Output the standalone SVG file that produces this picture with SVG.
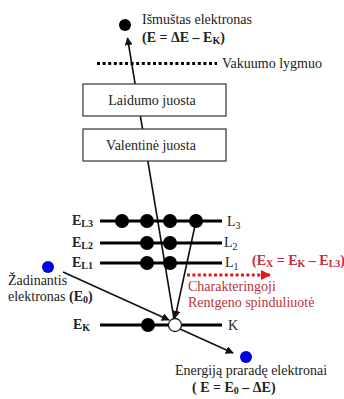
<svg xmlns="http://www.w3.org/2000/svg" width="344" height="399" viewBox="0 0 344 399" font-family="'Liberation Serif','Times New Roman',serif">
<style>
text{font-family:"Liberation Serif","Times New Roman",serif;font-size:14px;fill:#222}
.b{font-weight:bold}
.sub{font-size:10px}
.red{fill:#c8283a}
.red2{fill:#b8343c}
.lvl{stroke:#000;stroke-width:3}
.conn{stroke:#111;stroke-width:1.6;fill:none}
.box{fill:#fff;stroke:#333;stroke-width:1.2}
.dot{fill:#000}
.blue{fill:#0000e0}
</style>
<defs>
<marker id="ah" viewBox="0 0 10 10" refX="9" refY="5" markerWidth="5" markerHeight="5" orient="auto" markerUnits="strokeWidth">
<path d="M0,0 L10,5 L0,10 Z" fill="#111"/>
</marker>
<marker id="ahr" viewBox="0 0 10 10" refX="9" refY="5" markerWidth="3.2" markerHeight="3.2" orient="auto" markerUnits="strokeWidth">
<path d="M0,0 L10,5 L0,10 Z" fill="#e01a1a"/>
</marker>
</defs>
<rect width="344" height="399" fill="#fff"/>

<g id="connectors">
<line class="conn" x1="174" y1="319" x2="127.5" y2="38" marker-end="url(#ah)"/>
<line class="conn" x1="196" y1="221" x2="175" y2="318" marker-end="url(#ah)"/>
<line class="conn" x1="63" y1="272" x2="169" y2="320" marker-end="url(#ah)"/>
<line class="conn" x1="180" y1="329" x2="233" y2="353" marker-end="url(#ah)"/>
<line x1="187" y1="275" x2="270" y2="275" stroke="#e01a1a" stroke-width="3.2" stroke-dasharray="3 2.4" marker-end="url(#ahr)"/>
</g>

<g id="ejected">
<circle class="dot" cx="125" cy="25" r="6"/>
<text x="142" y="24">Išmuštas elektronas</text>
<text x="142" y="42" class="b">(E = ΔE – E<tspan class="sub" dy="2">K</tspan><tspan dy="-2">)</tspan></text>
</g>

<g id="vacuum">
<line x1="97" y1="63.5" x2="217" y2="63.5" stroke="#000" stroke-width="3" stroke-dasharray="3 2.6"/>
<text x="222" y="68">Vakuumo lygmuo</text>
</g>

<g id="conduction">
<rect class="box" x="83" y="84" width="143" height="32"/>
<text x="152" y="105" text-anchor="middle">Laidumo juosta</text>
</g>

<g id="valence">
<rect class="box" x="83" y="129" width="143" height="32"/>
<text x="151" y="150" text-anchor="middle">Valentinė juosta</text>
</g>

<g id="L3">
<line class="lvl" x1="100" y1="221" x2="222" y2="221"/>
<circle class="dot" cx="122" cy="221" r="7"/>
<circle class="dot" cx="147" cy="221" r="7"/>
<circle class="dot" cx="170" cy="221" r="7"/>
<circle class="dot" cx="196" cy="221" r="7"/>
<text x="72" y="225" class="b">E<tspan class="sub" dy="2">L3</tspan></text>
<text x="227" y="226">L<tspan class="sub" dy="3">3</tspan></text>
</g>

<g id="L2">
<line class="lvl" x1="100" y1="243" x2="222" y2="243"/>
<circle class="dot" cx="147" cy="243" r="7"/>
<circle class="dot" cx="170" cy="243" r="7"/>
<text x="72" y="247" class="b">E<tspan class="sub" dy="2">L2</tspan></text>
<text x="224" y="247">L<tspan class="sub" dy="3">2</tspan></text>
</g>

<g id="L1">
<line class="lvl" x1="100" y1="263" x2="222" y2="263"/>
<circle class="dot" cx="147" cy="263" r="7"/>
<circle class="dot" cx="170" cy="263" r="7"/>
<text x="72" y="267" class="b">E<tspan class="sub" dy="2">L1</tspan></text>
<text x="225" y="267">L<tspan class="sub" dy="3">1</tspan></text>
</g>

<g id="K">
<line class="lvl" x1="100" y1="325" x2="222" y2="325"/>
<circle class="dot" cx="148" cy="325" r="7"/>
<circle cx="175" cy="325" r="6.5" fill="#fff" stroke="#222" stroke-width="1.3"/>
<text x="73" y="329" class="b">E<tspan class="sub" dy="2">K</tspan></text>
<text x="228" y="330">K</text>
</g>

<g id="xray">
<text x="252" y="265" class="b red">(E<tspan class="sub" dy="2">X</tspan><tspan dy="-2"> = E</tspan><tspan class="sub" dy="2">K</tspan><tspan dy="-2"> – E</tspan><tspan class="sub" dy="2">L3</tspan><tspan dy="-2">)</tspan></text>
<text x="188" y="291" class="red2">Charakteringoji</text>
<text x="188" y="307" class="red2">Rentgeno spinduliuotė</text>
</g>

<g id="incoming">
<circle class="blue" cx="48" cy="267" r="6"/>
<text x="8" y="285">Žadinantis</text>
<text x="8" y="301">elektronas <tspan class="b">(E<tspan class="sub" dy="2">0</tspan><tspan dy="-2">)</tspan></tspan></text>
</g>

<g id="outgoing">
<circle class="blue" cx="246" cy="357" r="6"/>
<text x="175" y="375">Energiją praradę elektronai</text>
<text x="192" y="392" class="b">( E = E<tspan class="sub" dy="2">0</tspan><tspan dy="-2"> – ΔE)</tspan></text>
</g>
</svg>
